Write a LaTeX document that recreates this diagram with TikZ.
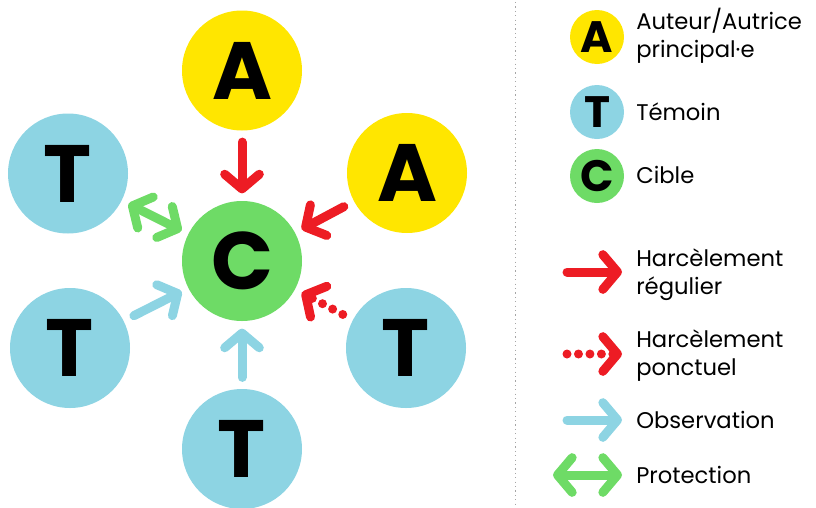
\documentclass[tikz,border=0pt]{standalone}
\usepackage{fontspec}
\setmainfont{Poppins}
\usetikzlibrary{arrows.meta}

\definecolor{jaune}{RGB}{255,230,0}
\definecolor{bleu}{RGB}{141,212,227}
\definecolor{vert}{RGB}{110,219,102}
\definecolor{rouge}{RGB}{237,28,36}

\begin{document}
\begin{tikzpicture}[
  x=0.75pt, y=-0.75pt,
  role/.style={circle, inner sep=0pt, minimum size=90pt,
    font=\fontsize{61}{61}\selectfont\bfseries},
  mini/.style={circle, inner sep=0pt, minimum size=40.5pt,
    font=\fontsize{33}{33}\selectfont\bfseries},
  legende/.style={anchor=base west, align=left, inner sep=0pt,
    font=\fontsize{17}{21}\selectfont},
  fleche/.style={line width=6.75pt, line cap=round,
    -{Straight Barb[length=11pt, width=26pt, round]}},
  double/.style={line width=6.75pt, line cap=round,
    {Straight Barb[length=11pt, width=26pt, round]}-{Straight Barb[length=11pt, width=26pt, round]}},
  lien/.style={shorten <=8.5pt, shorten >=5.5pt},
  pointille/.style={dash pattern=on 0pt off 8.6pt},
]
  \useasboundingbox (0,0) rectangle (816,507);

  % personnes
  \node[role, fill=jaune] (atop)   at (242,70.5) {A};
  \node[role, fill=jaune] (aright) at (407,173)  {A};
  \node[role, fill=bleu]  (ttl)    at (68,173.5) {T};
  \node[role, fill=bleu]  (tbl)    at (70,348)   {T};
  \node[role, fill=bleu]  (tbr)    at (406,348)  {T};
  \node[role, fill=bleu]  (tbot)   at (242,449)  {T};
  \node[role, fill=vert]  (cib)    at (242,261)  {C};

  % relations
  \draw[fleche, lien, rouge] (atop) -- (cib);
  \draw[fleche, lien, rouge] (aright) -- (cib);
  \draw[fleche, lien, rouge, pointille] (tbr) -- (cib);
  \draw[fleche, lien, bleu] (tbot) -- (cib);
  \draw[fleche, lien, bleu] (tbl) -- (cib);
  \draw[double, shorten <=5.5pt, shorten >=5.5pt, vert] (ttl) -- (cib);

  % separation
  \coordinate (sep1) at (515.5,2);
  \coordinate (sep2) at (515.5,507);
  \draw[black!35, line width=0.9pt, dash pattern=on 0.9pt off 2.4pt] (sep1) -- (sep2);

  % legende
  \node[mini, fill=jaune] (la) at (597,37)  {A};
  \node[mini, fill=bleu]  (lt) at (597,112) {T};
  \node[mini, fill=vert]  (lc) at (597,176) {C};
  \node[legende] (txa) at (636,57)  {Auteur/Autrice\\principal·e};
  \node[legende] (txt) at (636,120) {Témoin};
  \node[legende] (txc) at (636,183) {Cible};

  \coordinate (hr1) at (567,272);
  \coordinate (hr2) at (622,272);
  \coordinate (hp1) at (567,354);
  \coordinate (hp2) at (622,354);
  \coordinate (ob1) at (567,420);
  \coordinate (ob2) at (622,420);
  \coordinate (pr1) at (553,475);
  \coordinate (pr2) at (622,475);
  \draw[fleche, rouge] (hr1) -- (hr2);
  \draw[fleche, rouge, pointille] (hp1) -- (hp2);
  \draw[fleche, bleu] (ob1) -- (ob2);
  \draw[double, vert] (pr1) -- (pr2);
  \node[legende] (txhr) at (636,294) {Harcèlement\\régulier};
  \node[legende] (txhp) at (636,375) {Harcèlement\\ponctuel};
  \node[legende] (txob) at (636,428) {Observation};
  \node[legende] (txpr) at (636,483) {Protection};
\end{tikzpicture}
\end{document}
